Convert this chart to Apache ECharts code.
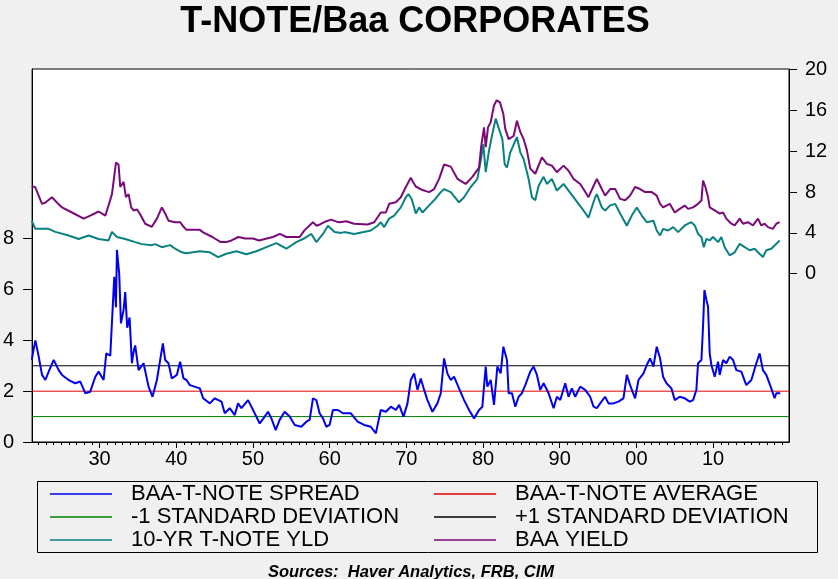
<!DOCTYPE html>
<html>
<head>
<meta charset="utf-8">
<script src="https://cdn.jsdelivr.net/npm/echarts@6/dist/echarts.min.js"></script>
<style>
  html, body { margin: 0; padding: 0; background: #f0f0f0; }
  #chart { width: 838px; height: 579px; }
</style>
</head>
<body>
<div id="chart"></div>
<script>
// ---- Data ----
const decadeTicks = [1930, 1940, 1950, 1960, 1970, 1980, 1990, 2000, 2010];
const leftTicks = [0, 2, 4, 6, 8];
const rightTicks = [0, 4, 8, 12, 16, 20];

const spreadAverage = 2.0;
const spreadMinusSD = 1.0;
const spreadPlusSD = 3.0;

// BAA - T-note spread [year, %]
const spreadPoints = [
  [1921.15,3.23],[1921.62,4.0],[1922.06,3.36],[1922.49,2.64],[1922.93,2.44],[1923.36,2.77],
  [1924.01,3.23],[1924.66,2.83],[1925.1,2.64],[1925.96,2.44],[1926.83,2.31],[1927.48,2.38],
  [1928.13,1.92],[1928.78,1.98],[1929.44,2.57],[1929.87,2.77],[1930.52,2.44],[1930.87,3.49],
  [1931.39,3.4],[1931.91,6.5],[1932.13,5.3],[1932.26,7.56],[1932.56,6.6],[1932.78,4.67],
  [1933.13,5.2],[1933.34,5.9],[1933.6,4.5],[1933.91,4.9],[1934.21,3.1],[1934.43,3.55],
  [1934.64,3.8],[1935.08,2.83],[1935.73,3.1],[1936.38,2.18],[1936.9,1.78],[1937.47,2.44],
  [1937.9,3.23],[1938.25,3.88],[1938.55,3.23],[1938.98,3.1],[1939.42,2.5],[1940.07,2.64],
  [1940.5,3.16],[1940.94,2.5],[1941.33,2.44],[1941.76,2.24],[1943.07,2.11],[1943.5,1.72],
  [1944.37,1.52],[1945.02,1.72],[1945.89,1.59],[1946.32,1.13],[1946.97,1.33],[1947.62,1.06],
  [1948.06,1.52],[1948.49,1.33],[1949.36,1.65],[1950.01,1.26],[1950.88,0.73],[1951.53,1.0],
  [1951.96,1.19],[1952.4,0.93],[1952.96,0.47],[1953.48,0.87],[1954.13,1.19],[1954.79,1.0],
  [1955.44,0.67],[1956.3,0.6],[1956.96,0.8],[1957.39,0.87],[1957.82,1.72],[1958.26,1.65],
  [1958.69,1.13],[1959.13,0.93],[1959.56,0.6],[1959.99,0.67],[1960.43,1.26],[1961.08,1.26],
  [1961.73,1.13],[1962.77,1.13],[1963.64,0.8],[1964.5,0.67],[1965.37,0.6],[1966.02,0.34],
  [1966.67,1.26],[1967.33,1.19],[1967.98,1.39],[1968.63,1.26],[1969.06,1.46],[1969.63,1.0],
  [1970.15,1.52],[1970.58,2.44],[1971.01,2.7],[1971.45,2.05],[1971.88,2.5],[1972.32,2.05],
  [1972.75,1.65],[1973.4,1.19],[1974.05,1.52],[1974.49,1.92],[1974.92,3.29],[1975.35,2.7],
  [1975.79,2.44],[1976.22,2.57],[1976.87,2.11],[1977.53,1.65],[1978.18,1.26],[1978.83,0.93],
  [1979.48,1.26],[1979.91,1.39],[1980.35,2.97],[1980.56,2.18],[1981.0,2.44],[1981.43,1.46],
  [1981.87,2.97],[1982.3,2.7],[1982.65,3.75],[1982.82,3.82],[1983.12,3.23],[1983.34,1.92],
  [1983.77,1.92],[1984.21,1.39],[1984.64,1.78],[1985.07,1.92],[1985.51,2.24],[1986.16,2.77],
  [1986.59,2.97],[1987.03,2.64],[1987.46,2.05],[1987.9,2.31],[1988.55,1.92],[1989.2,1.33],
  [1989.63,1.78],[1990.07,1.65],[1990.72,2.31],[1991.15,1.78],[1991.58,2.11],[1992.02,1.78],
  [1992.67,2.18],[1993.32,2.05],[1993.97,1.78],[1994.41,1.39],[1994.84,1.33],[1995.27,1.52],
  [1995.92,1.78],[1996.36,1.52],[1997.01,1.52],[1997.66,1.59],[1998.31,1.72],[1998.75,2.64],
  [1999.18,2.24],[1999.83,1.72],[2000.27,2.44],[2000.92,2.7],[2001.35,3.03],[2001.78,3.29],
  [2002.22,2.97],[2002.65,3.75],[2003.09,3.29],[2003.48,2.57],[2003.92,2.31],[2004.57,2.11],
  [2005.0,1.65],[2005.65,1.78],[2006.31,1.72],[2006.96,1.59],[2007.39,1.65],[2007.82,2.05],
  [2008.04,3.1],[2008.48,3.23],[2008.69,4.54],[2008.87,5.98],[2009.13,5.59],[2009.34,5.33],
  [2009.56,3.49],[2009.78,3.03],[2010.21,2.57],[2010.65,3.16],[2010.86,2.64],[2011.3,3.23],
  [2011.73,3.1],[2012.16,3.36],[2012.6,3.23],[2013.03,2.83],[2013.68,2.77],[2014.33,2.24],
  [2014.99,2.44],[2015.64,3.1],[2016.07,3.49],[2016.5,2.83],[2016.94,2.64],[2017.59,2.11],
  [2018.02,1.72],[2018.24,1.92],[2018.76,1.92]
];

// Moody's BAA yield [year, %]
const baaPoints = [
  [1921.15,8.55],[1921.6,8.5],[1922.49,6.85],[1922.9,6.95],[1923.79,7.5],[1924.6,6.85],
  [1925.1,6.5],[1926.4,6.0],[1927.92,5.4],[1928.78,5.7],[1929.87,6.1],[1930.74,5.7],
  [1931.17,6.7],[1931.61,7.8],[1931.95,9.8],[1932.13,10.9],[1932.47,10.7],[1932.69,8.5],
  [1933.13,9.0],[1933.43,7.5],[1933.78,7.8],[1934.12,6.5],[1934.43,6.2],[1934.9,6.3],
  [1935.3,5.8],[1935.95,4.9],[1936.81,4.6],[1937.47,5.4],[1938.12,6.5],[1938.55,5.9],
  [1938.98,5.2],[1939.85,5.05],[1940.5,5.05],[1940.95,4.6],[1941.33,4.3],[1943.07,4.3],
  [1943.5,4.05],[1944.7,3.6],[1945.8,3.1],[1946.5,3.1],[1947.2,3.26],[1948.1,3.6],
  [1949.0,3.45],[1950.0,3.45],[1950.8,3.26],[1951.8,3.45],[1952.6,3.6],[1953.5,3.9],
  [1954.35,3.6],[1956.09,3.6],[1956.7,4.25],[1957.82,5.05],[1958.3,4.7],[1958.8,4.85],
  [1959.56,5.15],[1960.21,5.3],[1960.9,5.1],[1961.3,5.05],[1962.16,5.15],[1963.2,4.9],
  [1964.94,4.83],[1965.81,5.05],[1966.67,6.0],[1967.33,6.0],[1967.76,6.85],[1968.63,7.0],
  [1969.28,7.5],[1969.93,8.5],[1970.58,9.4],[1970.8,9.1],[1971.23,8.55],[1972.1,8.2],
  [1972.97,8.0],[1973.62,8.3],[1974.27,9.3],[1974.92,10.7],[1975.79,10.5],[1976.66,9.3],
  [1977.74,8.8],[1978.61,9.5],[1979.48,10.4],[1979.78,12.6],[1980.13,14.35],[1980.35,12.4],
  [1980.65,14.35],[1981.0,14.85],[1981.43,16.5],[1981.78,17.0],[1982.21,16.8],[1982.65,15.65],
  [1982.9,14.2],[1983.34,13.2],[1983.99,13.5],[1984.42,15.0],[1984.86,13.9],[1985.29,13.2],
  [1985.73,12.07],[1986.16,10.3],[1986.81,9.8],[1987.68,11.4],[1988.33,10.76],[1988.98,10.6],
  [1989.63,9.95],[1990.5,10.6],[1991.15,10.1],[1991.8,9.3],[1992.67,8.8],[1993.1,8.3],
  [1993.75,7.5],[1994.41,8.6],[1994.84,9.3],[1995.49,8.3],[1995.92,7.66],[1996.58,8.3],
  [1997.23,8.3],[1997.88,7.34],[1998.53,7.2],[1999.18,7.66],[1999.83,8.5],[2000.48,8.3],
  [2001.13,8.0],[2002.0,8.0],[2002.65,7.66],[2003.09,6.85],[2003.48,6.5],[2004.35,6.85],
  [2005.0,6.0],[2005.65,6.36],[2006.31,6.68],[2006.74,6.36],[2007.39,6.5],[2008.04,6.85],
  [2008.48,7.17],[2008.69,9.13],[2009.0,8.5],[2009.34,7.5],[2009.56,6.5],[2010.21,6.2],
  [2010.86,5.9],[2011.3,6.0],[2011.73,5.4],[2012.38,4.9],[2012.82,4.73],[2013.47,5.4],
  [2013.9,4.9],[2014.55,5.05],[2015.2,4.73],[2015.85,5.4],[2016.29,4.73],[2016.72,4.9],
  [2017.16,4.57],[2017.81,4.4],[2018.24,4.9],[2018.68,5.05]
];

// 10-year T-note yield [year, %]
const tnotePoints = [
  [1921.15,5.2],[1921.62,4.4],[1923.36,4.4],[1924.23,4.1],[1925.96,3.75],[1927.27,3.4],
  [1928.57,3.75],[1929.87,3.4],[1931.17,3.26],[1931.61,4.1],[1932.26,3.6],[1933.34,3.4],
  [1934.64,3.1],[1935.51,2.9],[1936.81,2.8],[1937.25,2.9],[1938.12,2.6],[1939.2,2.8],
  [1939.85,2.45],[1940.72,2.1],[1941.33,2.0],[1943.07,2.2],[1944.37,2.1],[1945.45,1.63],
  [1946.54,1.96],[1947.84,2.2],[1949.14,1.9],[1950.44,2.2],[1951.75,2.6],[1953.05,3.0],
  [1954.35,2.45],[1955.65,3.1],[1956.52,3.4],[1957.61,3.9],[1958.26,3.1],[1959.13,3.9],
  [1959.78,4.7],[1960.64,4.08],[1961.51,4.0],[1961.9,4.08],[1963.2,3.9],[1965.37,4.24],
  [1966.24,4.7],[1966.67,5.05],[1967.11,4.57],[1967.76,5.4],[1968.41,5.7],[1969.28,6.5],
  [1969.93,7.5],[1970.28,7.8],[1970.71,7.3],[1971.23,5.9],[1971.67,6.5],[1972.1,6.0],
  [1972.97,6.7],[1973.62,7.2],[1974.49,8.0],[1974.92,8.3],[1975.79,8.0],[1976.87,7.0],
  [1977.53,7.5],[1978.39,8.5],[1979.26,9.3],[1979.7,11.1],[1980.04,12.7],[1980.35,9.95],
  [1980.78,12.07],[1981.21,13.7],[1981.65,15.2],[1982.08,14.2],[1982.52,13.2],[1982.82,10.76],
  [1983.12,10.4],[1983.56,11.9],[1984.42,13.4],[1984.86,11.9],[1985.29,11.25],[1985.94,9.3],
  [1986.38,7.5],[1986.81,7.2],[1987.24,8.6],[1987.9,9.5],[1988.33,8.8],[1988.98,9.3],
  [1989.63,8.15],[1990.5,8.8],[1991.15,8.15],[1991.8,7.5],[1992.45,6.85],[1993.1,6.2],
  [1993.75,5.5],[1994.62,7.5],[1994.84,7.8],[1995.49,6.5],[1995.92,6.2],[1996.58,6.7],
  [1997.23,6.85],[1997.88,5.9],[1998.75,4.7],[1999.4,5.7],[2000.05,6.5],[2000.7,5.7],
  [2001.35,5.05],[2002.22,5.2],[2002.65,4.24],[2003.09,3.75],[2003.48,4.4],[2004.14,4.24],
  [2004.79,4.57],[2005.44,4.08],[2006.31,4.73],[2007.17,5.05],[2007.61,4.73],[2008.04,3.9],
  [2008.48,3.6],[2008.78,2.6],[2009.13,3.42],[2009.56,3.26],[2009.99,3.6],[2010.65,3.1],
  [2011.08,3.6],[2011.51,2.6],[2012.16,1.8],[2012.82,2.1],[2013.47,2.93],[2014.12,2.6],
  [2014.77,2.3],[2015.42,2.45],[2015.85,2.1],[2016.5,1.63],[2016.94,2.3],[2017.59,2.45],
  [2018.02,2.77],[2018.68,3.26]
];

const xMin = 1921.2, xMax = 2019.9;
const yearTicks = [];
for (let y = 1922; y <= 2019; y++) yearTicks.push(y);

const FONT = '"Liberation Sans", Arial, sans-serif';
const chart = echarts.init(document.getElementById('chart'), null, { renderer: 'canvas' });

function flat(v) { return [[xMin, v], [xMax, v]]; }

const legendText = { fontFamily: FONT, fontSize: 22, color: '#000', lineHeight: 20, padding: [0, 0, 0, 14] };

chart.setOption({
  animation: false,
  backgroundColor: '#f0f0f0',
  title: [
    { text: 'T-NOTE/Baa CORPORATES', left: 410, top: -1, textAlign: 'center',
      textStyle: { fontFamily: FONT, fontSize: 36, fontWeight: 'bold', color: '#000' } },
    { text: 'Sources:  Haver Analytics, FRB, CIM', left: 406, top: 559, textAlign: 'center',
      textStyle: { fontFamily: FONT, fontSize: 16.5, fontWeight: 'bold', fontStyle: 'italic', color: '#000' } }
  ],
  grid: { left: 31, right: 49, top: 69, bottom: 137, show: true, backgroundColor: '#ffffff',
          borderColor: '#000', borderWidth: 1, containLabel: false },
  xAxis: [
    { type: 'value', min: xMin, max: xMax, position: 'bottom',
      axisLine: { show: true, onZero: false, lineStyle: { color: '#000', width: 1 } },
      axisTick: { show: true, customValues: decadeTicks, length: 6, lineStyle: { color: '#000' } },
      axisLabel: { show: true, customValues: decadeTicks, margin: 7, color: '#000',
                   fontFamily: FONT, fontSize: 20,
                   formatter: v => String(Math.round(v) % 100).padStart(2, '0') },
      splitLine: { show: false } },
    { type: 'value', min: xMin, max: xMax, position: 'bottom',
      axisLine: { show: false, onZero: false },
      axisTick: { show: true, customValues: yearTicks, length: 3, lineStyle: { color: '#000' } },
      axisLabel: { show: false }, splitLine: { show: false } }
  ],
  yAxis: [
    { type: 'value', min: 0, max: 14.68, position: 'left',
      axisLine: { show: true, onZero: false, lineStyle: { color: '#000' } },
      axisTick: { show: true, customValues: leftTicks, length: 9, lineStyle: { color: '#000' } },
      axisLabel: { customValues: leftTicks, margin: 18, color: '#000', fontFamily: FONT, fontSize: 20 },
      splitLine: { show: false } },
    { type: 'value', min: -16.5, max: 20.07, position: 'right',
      axisLine: { show: true, onZero: false, lineStyle: { color: '#000' } },
      axisTick: { show: true, customValues: rightTicks, length: 8, lineStyle: { color: '#000' } },
      axisLabel: { customValues: rightTicks, margin: 16, color: '#000', fontFamily: FONT, fontSize: 20 },
      splitLine: { show: false } }
  ],
  legend: [
    { data: ['BAA-T-NOTE SPREAD', '-1 STANDARD DEVIATION', '10-YR T-NOTE YLD'],
      orient: 'vertical', left: 50, top: 483, padding: 0, itemWidth: 62, itemHeight: 1.5, itemGap: 1,
      icon: 'rect', selectedMode: false, textStyle: legendText },
    { data: ['BAA-T-NOTE AVERAGE', '+1 STANDARD DEVIATION', 'BAA YIELD'],
      orient: 'vertical', left: 434, top: 483, padding: 0, itemWidth: 62, itemHeight: 1.5, itemGap: 1,
      icon: 'rect', selectedMode: false, textStyle: legendText }
  ],
  graphic: [
    { type: 'rect', shape: { x: 37.5, y: 481.5, width: 780, height: 71 },
      style: { fill: 'none', stroke: '#000', lineWidth: 1 }, silent: true }
  ],
  series: [
    { name: '-1 STANDARD DEVIATION', type: 'line', data: flat(spreadMinusSD), showSymbol: false,
      lineStyle: { color: '#008000', width: 1 }, itemStyle: { color: '#008000' }, z: 2 },
    { name: 'BAA-T-NOTE AVERAGE', type: 'line', data: flat(spreadAverage), showSymbol: false,
      lineStyle: { color: '#e00000', width: 1 }, itemStyle: { color: '#e00000' }, z: 2 },
    { name: '+1 STANDARD DEVIATION', type: 'line', data: flat(spreadPlusSD), showSymbol: false,
      lineStyle: { color: '#000000', width: 1 }, itemStyle: { color: '#000000' }, z: 2 },
    { name: '10-YR T-NOTE YLD', type: 'line', yAxisIndex: 1, data: tnotePoints, showSymbol: false,
      lineStyle: { color: '#0a8080', width: 2 }, itemStyle: { color: '#0a8080' }, z: 3 },
    { name: 'BAA YIELD', type: 'line', yAxisIndex: 1, data: baaPoints, showSymbol: false,
      lineStyle: { color: '#7a0a7a', width: 2 }, itemStyle: { color: '#7a0a7a' }, z: 3 },
    { name: 'BAA-T-NOTE SPREAD', type: 'line', data: spreadPoints, showSymbol: false,
      lineStyle: { color: '#0000ee', width: 2 }, itemStyle: { color: '#0000ee' }, z: 4 }
  ]
});
</script>
</body>
</html>
